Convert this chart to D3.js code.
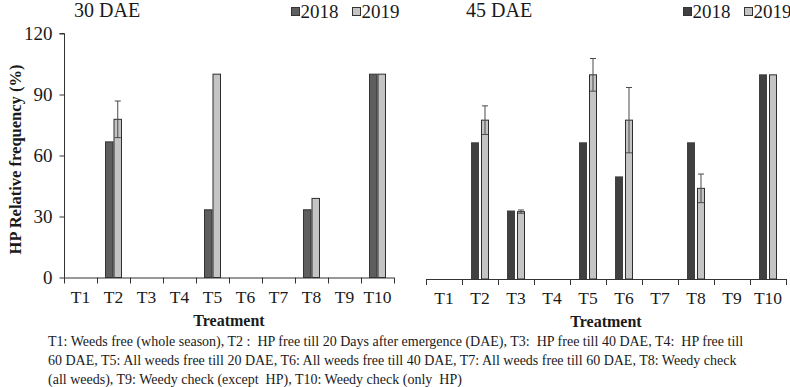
<!DOCTYPE html>
<html>
<head>
<meta charset="utf-8">
<script src="https://cdn.jsdelivr.net/npm/d3@7"></script>
<style>
  html, body { margin: 0; padding: 0; background: #fff; }
  svg text { font-family: "Liberation Serif", "Times New Roman", serif; fill: #1a1a1a; }
  .note { white-space: pre; }
</style>
</head>
<body>
<svg id="chart" width="790" height="387"></svg>
<script>
  // treatments on the x axis
  const treatments = ["T1", "T2", "T3", "T4", "T5", "T6", "T7", "T8", "T9", "T10"];
  const years = ["2018", "2019"];
  const yTicks = [0, 30, 60, 90, 120];

  // 30 DAE
  const dae30_2018 = [0, 66.7, 0, 0, 33.3, 0, 0, 33.3, 0, 100];
  const dae30_2019 = [0, 77.8, 0, 0, 100, 0, 0, 38.9, 0, 100];
  const dae30_err2019 = [0, 9, 0, 0, 0, 0, 0, 0, 0, 0];

  // 45 DAE
  const dae45_2018 = [0, 66.7, 33.3, 0, 66.7, 50, 0, 66.7, 0, 100];
  const dae45_2019 = [0, 77.8, 33, 0, 100, 77.8, 0, 44.4, 0, 100];
  const dae45_err2019 = [0, 7, 0.8, 0, 8, 16, 0, 7, 0, 0];

  const footnote = [
    "T1: Weeds free (whole season), T2 :  HP free till 20 Days after emergence (DAE), T3:  HP free till 40 DAE, T4:  HP free till",
    "60 DAE, T5: All weeds free till 20 DAE, T6: All weeds free till 40 DAE, T7: All weeds free till 60 DAE, T8: Weedy check",
    "(all weeds), T9: Weedy check (except  HP), T10: Weedy check (only  HP)"
  ];

  const svg = d3.select("#chart");

  const panels = [
    {
      title: "30 DAE", v18: dae30_2018, v19: dae30_2019, err: dae30_err2019,
      x0: 64, x1: 394, yTop: 33.5, yBase: 277.5, titleX: 74,
      c18: "#5e5e5e", s18: "#333", gap: 0, barW: 8.5,
      legendX: 291, yAxis: true
    },
    {
      title: "45 DAE", v18: dae45_2018, v19: dae45_2019, err: dae45_err2019,
      x0: 426, x1: 786, yTop: 34, yBase: 279, titleX: 466,
      c18: "#404040", s18: "#404040", gap: 2, barW: 8,
      legendX: 683, yAxis: false
    }
  ];

  panels.forEach((p) => {
    const g = svg.append("g");

    const x = d3.scaleBand().domain(treatments).range([p.x0, p.x1]);
    const y = d3.scaleLinear().domain([0, 120]).range([p.yBase, p.yTop]);

    // title
    g.append("text")
      .attr("x", p.titleX)
      .attr("y", 17)
      .attr("font-size", 20)
      .text(p.title);

    // legend
    const lg = g.append("g").attr("transform", `translate(${p.legendX},0)`);
    years.forEach((yr, i) => {
      const off = i * 61;
      lg.append("rect")
        .attr("x", off + 0.5).attr("y", 7.5)
        .attr("width", 8).attr("height", 8)
        .attr("fill", i === 0 ? p.c18 : "#c4c4c4")
        .attr("stroke", "#333").attr("stroke-width", 1);
      lg.append("text")
        .attr("x", off + 9.5).attr("y", 18)
        .attr("font-size", 19)
        .text(yr);
    });

    // bars
    const groupW = p.barW * 2 + p.gap;
    const series = [
      { vals: p.v18, fill: p.c18, stroke: p.s18, dx: 0 },
      { vals: p.v19, fill: "#c4c4c4", stroke: "#2e2e2e", dx: p.barW + p.gap }
    ];
    series.forEach((s) => {
      g.append("g")
        .selectAll("rect")
        .data(treatments.map((t, i) => ({ t, v: s.vals[i] })).filter((d) => d.v > 0))
        .join("rect")
        .attr("x", (d) => x(d.t) + (x.bandwidth() - groupW) / 2 + s.dx + 0.5)
        .attr("y", (d) => y(d.v))
        .attr("width", p.barW - 1)
        .attr("height", (d) => y(0) - y(d.v))
        .attr("fill", s.fill)
        .attr("stroke", s.stroke)
        .attr("stroke-width", 1);
    });

    // error bars on 2019
    const errData = treatments
      .map((t, i) => ({ t, v: p.v19[i], e: p.err[i] }))
      .filter((d) => d.e > 0);
    const eg = g.append("g").attr("stroke", "#4a4a4a").attr("stroke-width", 1);
    errData.forEach((d) => {
      const cx = x(d.t) + (x.bandwidth() - groupW) / 2 + p.barW + p.gap + p.barW / 2;
      eg.append("line")
        .attr("x1", cx).attr("x2", cx)
        .attr("y1", y(d.v + d.e)).attr("y2", y(d.v - d.e));
      [d.v + d.e, d.v - d.e].forEach((v) => {
        eg.append("line")
          .attr("x1", cx - 3).attr("x2", cx + 3)
          .attr("y1", y(v)).attr("y2", y(v));
      });
    });

    // x axis: line with ticks at band boundaries
    const xa = g.append("g").attr("stroke", "#333").attr("stroke-width", 1);
    xa.append("line")
      .attr("x1", p.x0).attr("x2", p.x1)
      .attr("y1", p.yBase + 0.5).attr("y2", p.yBase + 0.5);
    treatments.concat(["end"]).forEach((t, i) => {
      const tx = Math.round(p.x0 + i * x.bandwidth()) + 0.5;
      xa.append("line")
        .attr("x1", tx).attr("x2", tx)
        .attr("y1", p.yBase).attr("y2", p.yBase + 6);
    });
    g.append("g")
      .selectAll("text")
      .data(treatments)
      .join("text")
      .attr("x", (d) => x(d) + x.bandwidth() / 2)
      .attr("y", p.yBase + 25)
      .attr("text-anchor", "middle")
      .attr("font-size", 17.5)
      .text((d) => d);

    g.append("text")
      .attr("x", (p.x0 + p.x1) / 2)
      .attr("y", p.yBase + 48)
      .attr("text-anchor", "middle")
      .attr("font-size", 16)
      .attr("font-weight", "bold")
      .text("Treatment");

    if (p.yAxis) {
      const ya = d3.axisLeft(y).tickValues(yTicks).tickSize(5).tickPadding(7);
      const ag = g.append("g")
        .attr("transform", `translate(${p.x0 + 0.5},0)`)
        .call(ya);
      ag.select(".domain").attr("d", `M-5,${p.yTop}H0V${p.yBase}`).attr("stroke", "#333");
      ag.selectAll(".tick line").attr("stroke", "#333");
      ag.selectAll(".tick text")
        .attr("font-size", 19)
        .attr("font-family", "Liberation Serif, serif")
        .attr("fill", "#1a1a1a");

      g.append("text")
        .attr("transform", `translate(21,${(p.yTop + p.yBase) / 2 + 4}) rotate(-90)`)
        .attr("text-anchor", "middle")
        .attr("font-size", 16.5)
        .attr("font-weight", "bold")
        .text("HP Relative frequency (%)");
    }
  });

  // footnote
  svg.append("g")
    .selectAll("text")
    .data(footnote)
    .join("text")
    .attr("class", "note")
    .attr("x", 48)
    .attr("y", (d, i) => 346 + i * 19)
    .attr("font-size", 14)
    .text((d) => d);
</script>
</body>
</html>
